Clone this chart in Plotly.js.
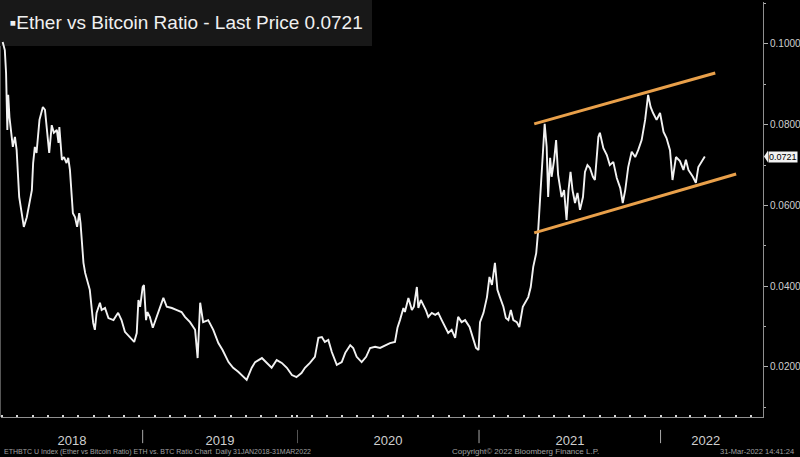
<!DOCTYPE html>
<html><head><meta charset="utf-8">
<script src="https://cdn.plot.ly/plotly-3.0.1.min.js"></script>
<style>html,body{margin:0;padding:0;background:#000;overflow:hidden}#chart{width:800px;height:457px}</style>
</head><body><div id="chart"></div>
<script>
// ---- data ----
const dates = [
'2018-02-04','2018-02-09','2018-02-12','2018-02-15','2018-02-17','2018-02-20','2018-02-28','2018-03-05','2018-03-09','2018-03-15',
'2018-03-26','2018-04-02','2018-04-14','2018-04-17','2018-04-21','2018-04-25','2018-05-02','2018-05-10','2018-05-15','2018-05-19',
'2018-05-25','2018-05-31','2018-06-05','2018-06-12','2018-06-16','2018-06-18','2018-06-24','2018-06-29','2018-07-05','2018-07-09',
'2018-07-13','2018-07-20','2018-07-25','2018-07-30','2018-08-04','2018-08-07','2018-08-14','2018-08-18','2018-08-23','2018-08-29',
'2018-09-06','2018-09-10','2018-09-14','2018-09-22','2018-09-26','2018-10-04','2018-10-12','2018-10-24','2018-11-04','2018-11-12',
'2018-11-20','2018-12-02','2018-12-12','2018-12-18','2018-12-22','2018-12-26','2019-01-01','2019-01-04','2019-01-09','2019-01-12',
'2019-01-18','2019-01-25','2019-01-30','2019-02-07','2019-02-19','2019-02-27','2019-03-11','2019-03-23','2019-04-03','2019-04-11',
'2019-04-23','2019-05-05','2019-05-11','2019-05-17','2019-05-24','2019-06-05','2019-06-17','2019-06-29','2019-07-09','2019-07-23',
'2019-08-03','2019-08-15','2019-08-23','2019-09-04','2019-09-16','2019-09-24','2019-10-10','2019-10-21','2019-11-02','2019-11-14',
'2019-11-26','2019-12-08','2019-12-20','2019-12-31',
'2020-01-10','2020-01-17','2020-01-27','2020-02-06','2020-02-13','2020-02-20','2020-02-26','2020-03-04','2020-03-11','2020-03-21',
'2020-03-31','2020-04-07','2020-04-17','2020-04-23','2020-04-30','2020-05-10','2020-05-19','2020-05-27','2020-06-06','2020-06-16',
'2020-06-26','2020-07-06','2020-07-16','2020-07-21','2020-07-26','2020-08-02','2020-08-05','2020-08-12','2020-08-19','2020-08-23',
'2020-08-29','2020-09-01','2020-09-06','2020-09-11','2020-09-16','2020-09-21','2020-09-28','2020-10-05','2020-10-11','2020-10-18',
'2020-10-25','2020-10-31','2020-11-07','2020-11-14','2020-11-20','2020-11-27','2020-12-04','2020-12-13','2020-12-21','2020-12-26',
'2020-12-31','2021-01-03','2021-01-10','2021-01-17','2021-01-22','2021-01-27','2021-02-02','2021-02-07','2021-02-12','2021-02-19',
'2021-02-24','2021-03-01','2021-03-06','2021-03-11','2021-03-18','2021-03-23','2021-03-30','2021-04-03','2021-04-10','2021-04-15',
'2021-04-20','2021-04-26','2021-04-30','2021-05-04','2021-05-09','2021-05-13','2021-05-17','2021-05-20','2021-05-24','2021-05-27',
'2021-06-01','2021-06-05','2021-06-09','2021-06-16','2021-06-21','2021-06-26','2021-06-30','2021-07-04','2021-07-08','2021-07-13',
'2021-07-18','2021-07-23','2021-07-29','2021-08-02','2021-08-07','2021-08-12','2021-08-18','2021-08-22','2021-08-29','2021-09-01',
'2021-09-08','2021-09-15','2021-09-21','2021-09-28','2021-10-05','2021-10-12','2021-10-17','2021-10-22','2021-10-28','2021-11-04',
'2021-11-11','2021-11-17','2021-11-24','2021-12-01','2021-12-07','2021-12-12','2021-12-17','2021-12-24','2021-12-31','2022-01-07',
'2022-01-13','2022-01-20','2022-01-25','2022-02-01','2022-02-09','2022-02-16','2022-02-21','2022-02-26','2022-03-07','2022-03-13',
'2022-03-18','2022-03-25','2022-03-31'
];
const ratio = [
0.1005,0.0985,0.0928,0.0787,0.0874,0.0819,0.0745,0.0770,0.0737,0.0621,
0.0547,0.0571,0.0638,0.0705,0.0745,0.0730,0.0812,0.0844,0.0837,0.0787,
0.0730,0.0799,0.0780,0.0787,0.0755,0.0794,0.0713,0.0720,0.0705,0.0718,
0.0688,0.0581,0.0571,0.0547,0.0581,0.0557,0.0458,0.0433,0.0415,0.0391,
0.0309,0.0292,0.0334,0.0359,0.0341,0.0346,0.0321,0.0316,0.0334,0.0316,
0.0287,0.0274,0.0262,0.0284,0.0366,0.0349,0.0398,0.0403,0.0316,0.0336,
0.0324,0.0297,0.0311,0.0334,0.0371,0.0349,0.0346,0.0341,0.0336,0.0324,
0.0311,0.0292,0.0222,0.0359,0.0311,0.0316,0.0292,0.0259,0.0242,0.0212,
0.0198,0.0188,0.0180,0.0168,0.0198,0.0212,0.0222,0.0210,0.0198,0.0217,
0.0210,0.0198,0.0180,0.0175,
0.0185,0.0198,0.0210,0.0225,0.0272,0.0274,0.0262,0.0267,0.0237,0.0205,
0.0212,0.0235,0.0254,0.0247,0.0225,0.0212,0.0225,0.0247,0.0250,0.0247,
0.0254,0.0259,0.0262,0.0297,0.0316,0.0346,0.0336,0.0371,0.0341,0.0349,
0.0398,0.0346,0.0366,0.0354,0.0341,0.0324,0.0334,0.0329,0.0334,0.0316,
0.0299,0.0284,0.0292,0.0272,0.0324,0.0311,0.0316,0.0299,0.0267,0.0247,
0.0242,0.0311,0.0334,0.0373,0.0423,0.0403,0.0458,0.0391,0.0373,0.0349,
0.0321,0.0316,0.0341,0.0316,0.0311,0.0299,0.0349,0.0359,0.0373,0.0398,
0.0448,0.0482,0.0539,0.0621,0.0720,0.0802,0.0745,0.0621,0.0718,0.0671,
0.0713,0.0762,0.0676,0.0621,0.0638,0.0564,0.0638,0.0683,0.0638,0.0606,
0.0631,0.0589,0.0621,0.0683,0.0700,0.0693,0.0671,0.0663,0.0770,0.0780,
0.0742,0.0725,0.0700,0.0708,0.0668,0.0643,0.0606,0.0638,0.0695,0.0733,
0.0720,0.0737,0.0762,0.0812,0.0874,0.0844,0.0829,0.0812,0.0829,0.0782,
0.0767,0.0737,0.0663,0.0720,0.0710,0.0688,0.0713,0.0688,0.0671,0.0656,
0.0695,0.0708,0.0721
];
const lastPrice = 0.0721;
const upperDates = ['2021-04-22','2022-04-21'];
const upperVals  = [0.0802, 0.0928];
const lowerDates = ['2021-04-22','2022-06-02'];
const lowerVals  = [0.0532, 0.0678];
const yTicks = [0.02, 0.04, 0.06, 0.08, 0.10];
const yearLabels = ['2018','2019','2020','2021','2022'];
const yearLabelDates = ['2018-07-18','2019-07-03','2020-07-02','2021-07-03','2022-04-02'];
const yearBreaks = ['2019-01-01','2020-01-01','2021-01-01','2022-01-01'];

// ---- layout helpers ----
const SPLIT = '2020-01-01';
const fA = (297 - 1) / 762;
const FONT = 'Liberation Sans Narrow, Arial Narrow, Liberation Sans, sans-serif';
const iSplit = dates.findIndex(d => d >= SPLIT);

const lineStyle = {color:'#f2f2f2', width:1.9};
const traces = [
  {x: dates.slice(0, iSplit + 1), y: ratio.slice(0, iSplit + 1), xaxis:'x', yaxis:'y', type:'scatter', mode:'lines', line:lineStyle, hoverinfo:'x+y'},
  {x: dates.slice(iSplit - 1), y: ratio.slice(iSplit - 1), xaxis:'x2', yaxis:'y', type:'scatter', mode:'lines', line:lineStyle, hoverinfo:'x+y'},
  {x: upperDates, y: upperVals, xaxis:'x2', yaxis:'y', type:'scatter', mode:'lines', line:{color:'#E9A04A', width:3}, hoverinfo:'skip'},
  {x: lowerDates, y: lowerVals, xaxis:'x2', yaxis:'y', type:'scatter', mode:'lines', line:{color:'#E9A04A', width:3}, hoverinfo:'skip'}
];

function xAxis(domain, range, labelIdx, minorDtick, minorTick0) {
  return {
    type:'date', domain, range, anchor:'y',
    showline:true, linecolor:'#8f8f8f', linewidth:1, showgrid:false, zeroline:false,
    tickmode:'array', tickvals: labelIdx.map(i => yearLabelDates[i]), ticktext: labelIdx.map(i => yearLabels[i]),
    ticks:'outside', ticklen:11, tickcolor:'rgba(0,0,0,0)',
    tickfont:{family:FONT, size:13, color:'#cfcfcf'},
    minor:{ticks:'inside', ticklen:2, tickwidth:2, tickcolor:'#d8d8d8', dtick:minorDtick, tick0:minorTick0, showgrid:false},
    fixedrange:true
  };
}

const shapes = [
  {type:'rect', xref:'paper', yref:'paper', x0:-0.002, x1:0.4869, y0:0.894, y1:1.01, fillcolor:'#181818', line:{width:0}, layer:'below'},
  {type:'line', xref:'paper', yref:'paper', x0:-0.0007, x1:-0.0007, y0:0, y1:0.894, line:{color:'#5a5a5a', width:1}},
  {type:'path', xref:'paper', xsizemode:'pixel', xanchor:1, yref:'y', ysizemode:'pixel', yanchor:lastPrice,
   path:'M1,0 L5,-6 L5,6 Z', fillcolor:'#f2f2f2', line:{width:0}}
];
yearBreaks.forEach(d => {
  shapes.push({type:'line', xref: d < SPLIT ? 'x' : 'x2', yref:'paper', x0:d, x1:d, y0:-0.031, y1:-0.063,
               line:{color:'#a8a8a8', width:1}});
});

const layout = {
  width:800, height:457,
  paper_bgcolor:'#000', plot_bgcolor:'#000',
  margin:{l:1, r:37, t:2, b:40},
  showlegend:false,
  title:{text:'▪Ether vs Bitcoin Ratio - Last Price ' + lastPrice.toFixed(4), xref:'container', yref:'container',
         x:0.012, xanchor:'left', y:0.952, yanchor:'middle', font:{family:FONT, size:19, color:'#f0f0f0'}},
  xaxis: xAxis([0, fA], ['2018-01-31', SPLIT], [0, 1], 36 * 86400000, '2018-02-03'),
  xaxis2: xAxis([fA, 1], [SPLIT, '2022-07-26'], [2, 3, 4], 'M1', '2020-01-01'),
  yaxis:{
    side:'right', anchor:'x2', range:[0.0076, 0.1104],
    showline:true, linecolor:'#8f8f8f', linewidth:1, showgrid:false, zeroline:false,
    tickmode:'array', tickvals:yTicks, tickformat:'.4f',
    ticks:'outside', ticklen:4, tickcolor:'#b0b0b0',
    tickfont:{family:FONT, size:10, color:'#cfcfcf'},
    minor:{ticks:'outside', ticklen:2, tickcolor:'#b0b0b0', dtick:0.01, tick0:0.01},
    fixedrange:true
  },
  shapes,
  annotations:[
    {xref:'paper', yref:'y', x:1, y:lastPrice, xanchor:'left', xshift:5, text:lastPrice.toFixed(4), showarrow:false,
     bgcolor:'#f2f2f2', borderpad:0, font:{family:FONT, size:9, color:'#000'}},
    {xref:'paper', yref:'paper', x:0.0013, y:-0.084, xanchor:'left', yanchor:'middle', showarrow:false,
     text:'ETHBTC U Index (Ether vs Bitcoin Ratio) ETH vs. BTC Ratio Chart  Daily 31JAN2018-31MAR2022',
     font:{family:FONT, size:7, color:'#a0a0a0'}},
    {xref:'paper', yref:'paper', x:0.589, y:-0.084, xanchor:'left', yanchor:'middle', showarrow:false,
     text:'Copyright© 2022 Bloomberg Finance L.P.', font:{family:FONT, size:8, color:'#a0a0a0'}},
    {xref:'paper', yref:'paper', x:1.0433, y:-0.084, xanchor:'right', yanchor:'middle', showarrow:false,
     text:'31-Mar-2022 14:41:24', font:{family:FONT, size:7.5, color:'#a0a0a0'}}
  ]
};

Plotly.newPlot('chart', traces, layout, {displayModeBar:false, staticPlot:true});
</script>
</body></html>
